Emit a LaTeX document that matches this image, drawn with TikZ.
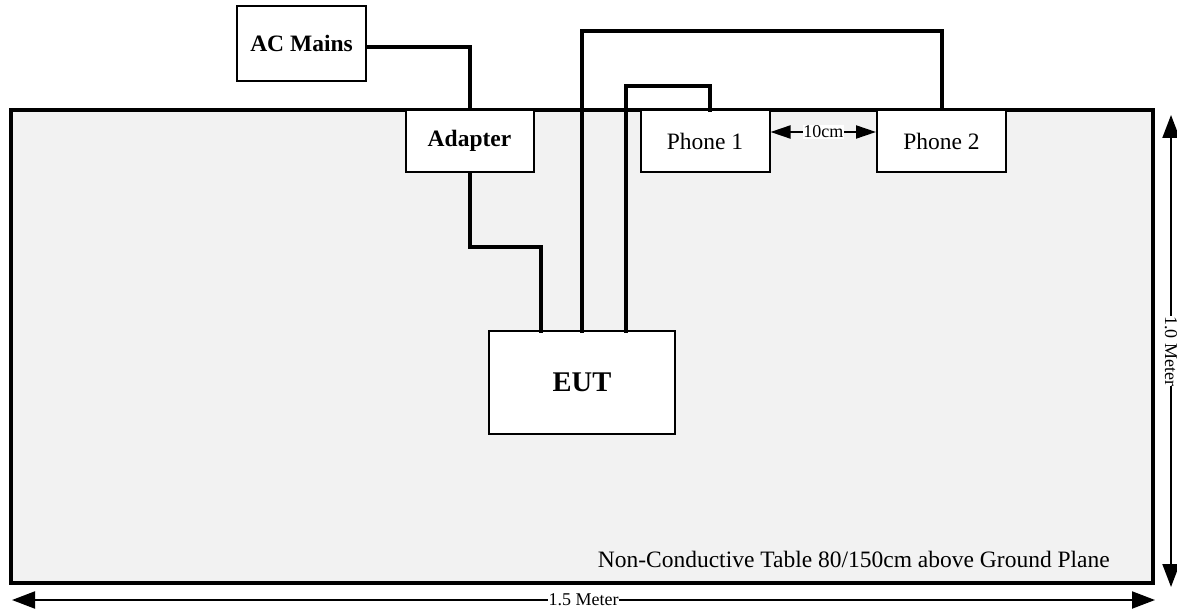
\documentclass[tikz,border=0pt]{standalone}
\usepackage{fontspec}
\setmainfont{Liberation Serif}
\usetikzlibrary{arrows.meta}

\tikzset{
    unit/.style={draw=black, line width=2pt, fill=white, inner sep=0pt,
        font=\fontsize{23.5}{26}\selectfont},
    wire/.style={line width=4pt, line cap=rect},
    dim/.style={line width=2pt, {Triangle[length=23pt,width=17pt]}-{Triangle[length=23pt,width=17pt]}},
    dimlabel/.style={fill=white, inner sep=0.5pt, font=\fontsize{18}{20}\selectfont}
}

\begin{document}
\begin{tikzpicture}[x=1pt, y=-1pt]
    \useasboundingbox (0,0) rectangle (1177,612);

    % the table
    \node [draw=black, line width=3.5pt, fill=black!5, minimum width=1142pt,
        minimum height=473pt, inner sep=0pt] (tbl) at (582,346.5) {};
    \node [anchor=base east, inner sep=0pt, font=\fontsize{23.5}{26}\selectfont]
        (tbltext) at (1110,567) {Non-Conductive Table 80/150cm above Ground Plane};

    % the units
    \node [unit, minimum width=129pt, minimum height=75pt, font=\bfseries\fontsize{23.5}{26}\selectfont]
        (mains) at (301.5,43.5) {AC Mains};
    \node [unit, minimum width=128pt, minimum height=62pt, font=\bfseries\fontsize{23.5}{26}\selectfont]
        (adapter) at (469.5,141) {Adapter};
    \node [unit, minimum width=129pt, minimum height=62pt] (phoneA) at (705,141) {Phone 1};
    \node [unit, minimum width=129pt, minimum height=62pt] (phoneB) at (941.5,141) {Phone 2};
    \node [unit, minimum width=186pt, minimum height=103pt, font=\bfseries\fontsize{28.5}{32}\selectfont]
        (eut) at (582,382.5) {EUT};

    % cable ends on the EUT
    \coordinate (eutA) at (541,331);
    \coordinate (eutB) at (582,331);
    \coordinate (eutC) at (626,331);
    \coordinate (phoneAin) at (710,110);

    % the cables
    \draw [wire] ([yshift=-3.5pt]mains.east) -| (adapter.north);
    \draw [wire] (adapter.south) |- (541,247) -- (eutA);
    \draw [wire] (eutB) -- (582,31) -| (phoneB.north);
    \draw [wire] (eutC) -- (626,86) -| (phoneAin);

    % 10cm between the phones
    \coordinate (gapL) at (phoneA.east |- 0,132);
    \coordinate (gapR) at (phoneB.west |- 0,132);
    \draw [line width=2pt, {Triangle[length=20pt,width=13pt]}-{Triangle[length=20pt,width=13pt]}]
        (gapL) -- (gapR)
        node [midway, dimlabel] (gap) {10cm};

    % table dimensions
    \draw [dim] (12,600) -- (1155,600)
        node [midway, dimlabel] (wlabel) {1.5 Meter};
    \draw [dim] (1171,115) -- (1171,587)
        node [midway, dimlabel, rotate=-90] (hlabel) {1.0 Meter};

\end{tikzpicture}
\end{document}
